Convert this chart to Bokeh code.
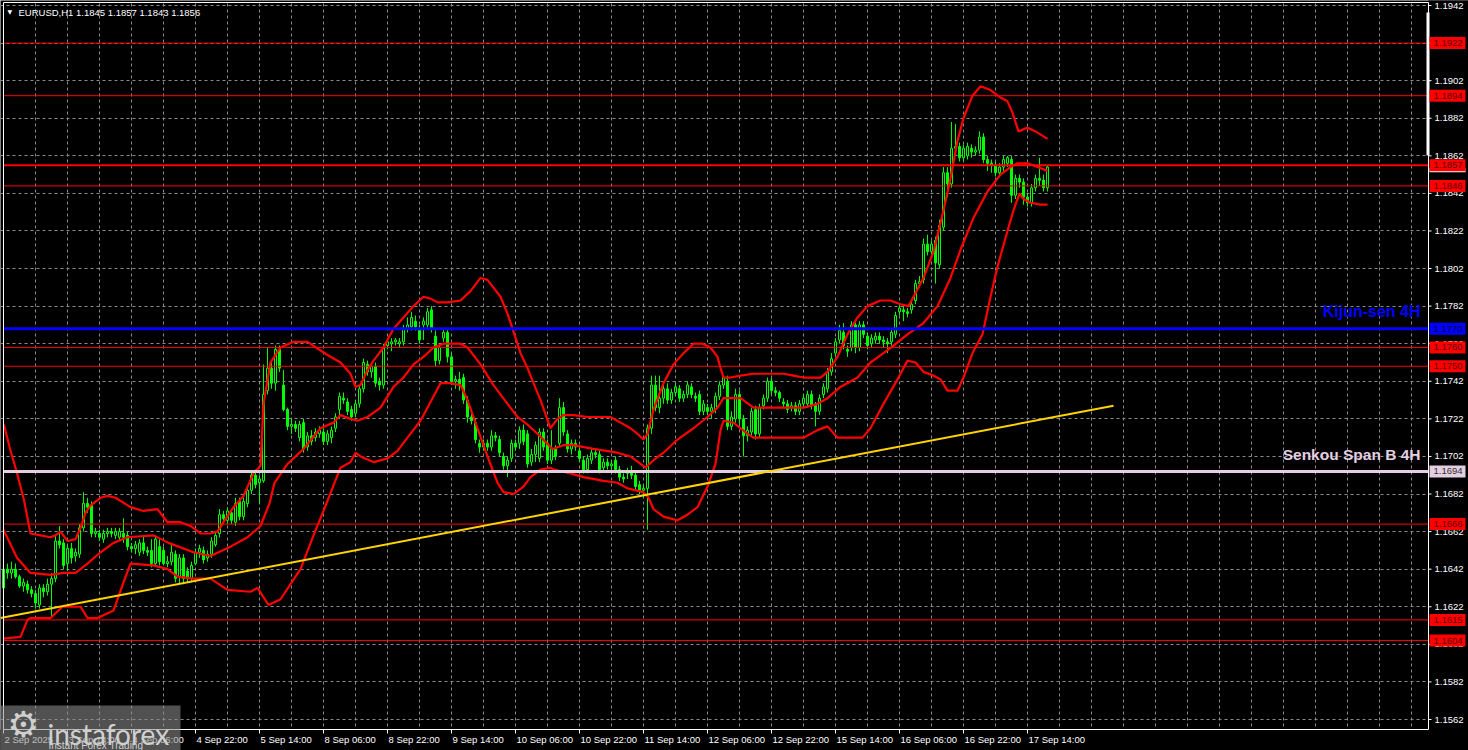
from bokeh.plotting import figure
from bokeh.models import Range1d, ColumnDataSource, Grid, FixedTicker
from bokeh.core.properties import value
from bokeh.embed import file_html
from bokeh.resources import INLINE

# ---------------- data (EURUSD H1) ----------------
bar_open = [
    1.1632, 1.1642, 1.1640, 1.1642, 1.1638, 1.1633, 1.1634, 1.1631, 1.1629, 1.1623,
    1.1632, 1.1630, 1.1634, 1.1637, 1.1657, 1.1656, 1.1645, 1.1653, 1.1649, 1.1650,
    1.1664, 1.1677, 1.1676, 1.1661, 1.1661, 1.1658, 1.1661, 1.1662, 1.1660, 1.1659,
    1.1661, 1.1660, 1.1654, 1.1653, 1.1651, 1.1656, 1.1652, 1.1652, 1.1645, 1.1654,
    1.1652, 1.1645, 1.1646, 1.1650, 1.1638, 1.1648, 1.1641, 1.1637, 1.1645, 1.1651,
    1.1652, 1.1648, 1.1650, 1.1655, 1.1661, 1.1671, 1.1668, 1.1672, 1.1667, 1.1678,
    1.1670, 1.1677, 1.1684, 1.1692, 1.1688, 1.1689, 1.1737, 1.1749, 1.1741, 1.1759,
    1.1740, 1.1727, 1.1718, 1.1719, 1.1712, 1.1720, 1.1707, 1.1713, 1.1712, 1.1714,
    1.1715, 1.1710, 1.1712, 1.1717, 1.1727, 1.1733, 1.1731, 1.1727, 1.1725, 1.1730,
    1.1738, 1.1751, 1.1747, 1.1750, 1.1742, 1.1740, 1.1761, 1.1762, 1.1763, 1.1762,
    1.1763, 1.1770, 1.1771, 1.1774, 1.1770, 1.1772, 1.1772, 1.1780, 1.1766, 1.1753,
    1.1765, 1.1768, 1.1755, 1.1742, 1.1743, 1.1744, 1.1732, 1.1723, 1.1720, 1.1709,
    1.1707, 1.1709, 1.1707, 1.1713, 1.1711, 1.1702, 1.1697, 1.1701, 1.1709, 1.1709,
    1.1716, 1.1714, 1.1699, 1.1703, 1.1701, 1.1715, 1.1709, 1.1700, 1.1706, 1.1709,
    1.1728, 1.1714, 1.1706, 1.1709, 1.1705, 1.1700, 1.1695, 1.1700, 1.1704, 1.1703,
    1.1696, 1.1699, 1.1697, 1.1700, 1.1695, 1.1691, 1.1693, 1.1694, 1.1692, 1.1687,
    1.1684, 1.1685, 1.1717, 1.1740, 1.1728, 1.1733, 1.1738, 1.1732, 1.1736, 1.1738,
    1.1733, 1.1735, 1.1739, 1.1734, 1.1735, 1.1726, 1.1728, 1.1726, 1.1727, 1.1734,
    1.1740, 1.1742, 1.1718, 1.1722, 1.1735, 1.1722, 1.1713, 1.1715, 1.1727, 1.1714,
    1.1729, 1.1733, 1.1742, 1.1737, 1.1736, 1.1731, 1.1730, 1.1728, 1.1729, 1.1726,
    1.1730, 1.1730, 1.1735, 1.1730, 1.1726, 1.1735, 1.1738, 1.1747, 1.1757, 1.1764,
    1.1768, 1.1759, 1.1760, 1.1772, 1.1760, 1.1772, 1.1766, 1.1762, 1.1764, 1.1766,
    1.1764, 1.1763, 1.1763, 1.1767, 1.1779, 1.1780, 1.1779, 1.1780, 1.1785, 1.1794,
    1.1796, 1.1815, 1.1811, 1.1817, 1.1804, 1.1824, 1.1853, 1.1847, 1.1866, 1.1867,
    1.1861, 1.1862, 1.1866, 1.1864, 1.1865, 1.1872, 1.1860, 1.1858, 1.1857, 1.1853,
    1.1856, 1.1858, 1.1860, 1.1841, 1.1850, 1.1848, 1.1840, 1.1837, 1.1845, 1.1850,
    1.1849, 1.1845,
]
bar_high = [
    1.1644, 1.1645, 1.1646, 1.1645, 1.1639, 1.1637, 1.1636, 1.1633, 1.1631, 1.1634,
    1.1634, 1.1637, 1.1640, 1.1660, 1.1665, 1.1658, 1.1655, 1.1656, 1.1653, 1.1666,
    1.1683, 1.1680, 1.1678, 1.1664, 1.1663, 1.1663, 1.1664, 1.1664, 1.1664, 1.1664,
    1.1669, 1.1662, 1.1656, 1.1657, 1.1658, 1.1660, 1.1654, 1.1658, 1.1660, 1.1658,
    1.1654, 1.1649, 1.1656, 1.1652, 1.1650, 1.1650, 1.1643, 1.1646, 1.1653, 1.1655,
    1.1654, 1.1652, 1.1659, 1.1662, 1.1674, 1.1673, 1.1675, 1.1674, 1.1680, 1.1680,
    1.1680, 1.1686, 1.1694, 1.1695, 1.1692, 1.1751, 1.1760, 1.1752, 1.1761, 1.1761,
    1.1748, 1.1728, 1.1722, 1.1721, 1.1721, 1.1722, 1.1715, 1.1716, 1.1717, 1.1718,
    1.1717, 1.1716, 1.1718, 1.1725, 1.1736, 1.1736, 1.1733, 1.1729, 1.1732, 1.1740,
    1.1754, 1.1753, 1.1752, 1.1752, 1.1744, 1.1762, 1.1765, 1.1765, 1.1765, 1.1765,
    1.1772, 1.1776, 1.1779, 1.1777, 1.1772, 1.1776, 1.1781, 1.1782, 1.1769, 1.1762,
    1.1770, 1.1770, 1.1757, 1.1745, 1.1747, 1.1746, 1.1734, 1.1727, 1.1722, 1.1711,
    1.1711, 1.1711, 1.1716, 1.1715, 1.1713, 1.1704, 1.1702, 1.1711, 1.1711, 1.1718,
    1.1719, 1.1716, 1.1706, 1.1710, 1.1717, 1.1717, 1.1711, 1.1716, 1.1708, 1.1733,
    1.1731, 1.1716, 1.1711, 1.1711, 1.1707, 1.1702, 1.1703, 1.1706, 1.1706, 1.1705,
    1.1701, 1.1701, 1.1700, 1.1702, 1.1697, 1.1693, 1.1696, 1.1697, 1.1694, 1.1689,
    1.1687, 1.1719, 1.1745, 1.1745, 1.1745, 1.1740, 1.1741, 1.1738, 1.1741, 1.1740,
    1.1737, 1.1742, 1.1741, 1.1736, 1.1737, 1.1732, 1.1730, 1.1730, 1.1736, 1.1742,
    1.1745, 1.1745, 1.1726, 1.1738, 1.1737, 1.1724, 1.1718, 1.1728, 1.1729, 1.1730,
    1.1735, 1.1744, 1.1744, 1.1739, 1.1737, 1.1733, 1.1732, 1.1731, 1.1731, 1.1732,
    1.1735, 1.1737, 1.1737, 1.1731, 1.1735, 1.1741, 1.1749, 1.1757, 1.1765, 1.1772,
    1.1773, 1.1761, 1.1774, 1.1774, 1.1774, 1.1774, 1.1768, 1.1767, 1.1768, 1.1768,
    1.1766, 1.1765, 1.1770, 1.1779, 1.1783, 1.1782, 1.1781, 1.1785, 1.1796, 1.1798,
    1.1818, 1.1820, 1.1817, 1.1819, 1.1828, 1.1856, 1.1856, 1.1880, 1.1879, 1.1869,
    1.1868, 1.1869, 1.1868, 1.1867, 1.1875, 1.1874, 1.1862, 1.1860, 1.1859, 1.1858,
    1.1862, 1.1862, 1.1862, 1.1852, 1.1852, 1.1850, 1.1842, 1.1847, 1.1852, 1.1861,
    1.1852, 1.1857,
]
bar_low = [
    1.1628, 1.1637, 1.1637, 1.1637, 1.1632, 1.1630, 1.1629, 1.1627, 1.1621, 1.1621,
    1.1627, 1.1628, 1.1616, 1.1635, 1.1653, 1.1642, 1.1641, 1.1645, 1.1646, 1.1648,
    1.1662, 1.1672, 1.1659, 1.1659, 1.1657, 1.1656, 1.1659, 1.1659, 1.1658, 1.1657,
    1.1656, 1.1652, 1.1651, 1.1650, 1.1649, 1.1650, 1.1649, 1.1643, 1.1644, 1.1644,
    1.1644, 1.1643, 1.1644, 1.1635, 1.1634, 1.1634, 1.1635, 1.1635, 1.1644, 1.1648,
    1.1645, 1.1646, 1.1648, 1.1654, 1.1659, 1.1667, 1.1666, 1.1666, 1.1665, 1.1668,
    1.1668, 1.1675, 1.1682, 1.1685, 1.1677, 1.1688, 1.1735, 1.1738, 1.1737, 1.1747,
    1.1726, 1.1716, 1.1714, 1.1715, 1.1710, 1.1704, 1.1705, 1.1708, 1.1710, 1.1712,
    1.1708, 1.1708, 1.1709, 1.1715, 1.1722, 1.1730, 1.1724, 1.1721, 1.1723, 1.1728,
    1.1736, 1.1745, 1.1744, 1.1739, 1.1737, 1.1738, 1.1759, 1.1758, 1.1761, 1.1760,
    1.1761, 1.1768, 1.1769, 1.1769, 1.1762, 1.1764, 1.1770, 1.1768, 1.1750, 1.1751,
    1.1763, 1.1752, 1.1740, 1.1738, 1.1737, 1.1730, 1.1720, 1.1719, 1.1709, 1.1704,
    1.1705, 1.1705, 1.1705, 1.1710, 1.1702, 1.1695, 1.1691, 1.1699, 1.1705, 1.1706,
    1.1708, 1.1696, 1.1697, 1.1699, 1.1699, 1.1705, 1.1698, 1.1698, 1.1700, 1.1707,
    1.1713, 1.1704, 1.1703, 1.1705, 1.1699, 1.1693, 1.1693, 1.1698, 1.1701, 1.1693,
    1.1694, 1.1695, 1.1694, 1.1693, 1.1689, 1.1688, 1.1690, 1.1690, 1.1684, 1.1682,
    1.1680, 1.1663, 1.1714, 1.1726, 1.1725, 1.1730, 1.1730, 1.1730, 1.1734, 1.1731,
    1.1731, 1.1733, 1.1733, 1.1731, 1.1724, 1.1724, 1.1724, 1.1722, 1.1725, 1.1732,
    1.1738, 1.1716, 1.1716, 1.1720, 1.1719, 1.1702, 1.1710, 1.1713, 1.1711, 1.1712,
    1.1727, 1.1731, 1.1735, 1.1734, 1.1731, 1.1728, 1.1725, 1.1726, 1.1724, 1.1724,
    1.1728, 1.1728, 1.1727, 1.1718, 1.1724, 1.1733, 1.1736, 1.1745, 1.1755, 1.1762,
    1.1759, 1.1755, 1.1758, 1.1757, 1.1758, 1.1765, 1.1759, 1.1760, 1.1762, 1.1762,
    1.1760, 1.1757, 1.1761, 1.1765, 1.1777, 1.1774, 1.1776, 1.1778, 1.1783, 1.1792,
    1.1794, 1.1809, 1.1808, 1.1794, 1.1802, 1.1822, 1.1840, 1.1845, 1.1862, 1.1859,
    1.1859, 1.1860, 1.1861, 1.1862, 1.1863, 1.1858, 1.1854, 1.1853, 1.1851, 1.1851,
    1.1854, 1.1856, 1.1837, 1.1839, 1.1845, 1.1836, 1.1835, 1.1835, 1.1843, 1.1846,
    1.1843, 1.1843,
]
bar_close = [
    1.1642, 1.1640, 1.1642, 1.1638, 1.1633, 1.1635, 1.1631, 1.1629, 1.1624, 1.1632,
    1.1630, 1.1634, 1.1637, 1.1657, 1.1655, 1.1644, 1.1653, 1.1648, 1.1651, 1.1664,
    1.1677, 1.1675, 1.1661, 1.1662, 1.1659, 1.1661, 1.1662, 1.1661, 1.1662, 1.1662,
    1.1659, 1.1654, 1.1653, 1.1655, 1.1656, 1.1652, 1.1651, 1.1645, 1.1658, 1.1646,
    1.1645, 1.1646, 1.1651, 1.1637, 1.1648, 1.1637, 1.1637, 1.1644, 1.1651, 1.1653,
    1.1647, 1.1650, 1.1657, 1.1660, 1.1671, 1.1669, 1.1673, 1.1668, 1.1677, 1.1670,
    1.1678, 1.1684, 1.1692, 1.1687, 1.1690, 1.1735, 1.1749, 1.1741, 1.1759, 1.1749,
    1.1727, 1.1718, 1.1719, 1.1717, 1.1719, 1.1706, 1.1713, 1.1710, 1.1715, 1.1716,
    1.1710, 1.1714, 1.1716, 1.1723, 1.1734, 1.1732, 1.1726, 1.1723, 1.1730, 1.1738,
    1.1752, 1.1747, 1.1750, 1.1741, 1.1740, 1.1760, 1.1763, 1.1763, 1.1764, 1.1763,
    1.1770, 1.1772, 1.1776, 1.1771, 1.1764, 1.1774, 1.1779, 1.1770, 1.1753, 1.1760,
    1.1768, 1.1755, 1.1742, 1.1743, 1.1740, 1.1732, 1.1723, 1.1721, 1.1711, 1.1707,
    1.1709, 1.1707, 1.1713, 1.1712, 1.1704, 1.1697, 1.1700, 1.1709, 1.1707, 1.1716,
    1.1710, 1.1698, 1.1703, 1.1708, 1.1715, 1.1707, 1.1700, 1.1706, 1.1702, 1.1728,
    1.1715, 1.1706, 1.1709, 1.1707, 1.1701, 1.1695, 1.1701, 1.1704, 1.1703, 1.1695,
    1.1699, 1.1697, 1.1698, 1.1695, 1.1691, 1.1690, 1.1694, 1.1692, 1.1686, 1.1684,
    1.1685, 1.1717, 1.1740, 1.1728, 1.1733, 1.1738, 1.1732, 1.1736, 1.1739, 1.1733,
    1.1735, 1.1740, 1.1735, 1.1733, 1.1726, 1.1730, 1.1726, 1.1728, 1.1734, 1.1740,
    1.1744, 1.1718, 1.1723, 1.1735, 1.1722, 1.1713, 1.1716, 1.1726, 1.1714, 1.1728,
    1.1733, 1.1742, 1.1737, 1.1736, 1.1733, 1.1730, 1.1727, 1.1729, 1.1726, 1.1730,
    1.1733, 1.1735, 1.1729, 1.1726, 1.1733, 1.1739, 1.1747, 1.1754, 1.1763, 1.1769,
    1.1761, 1.1758, 1.1772, 1.1760, 1.1772, 1.1767, 1.1761, 1.1765, 1.1766, 1.1764,
    1.1763, 1.1762, 1.1768, 1.1777, 1.1781, 1.1779, 1.1778, 1.1783, 1.1794, 1.1795,
    1.1815, 1.1811, 1.1815, 1.1805, 1.1825, 1.1853, 1.1847, 1.1866, 1.1867, 1.1861,
    1.1866, 1.1867, 1.1864, 1.1865, 1.1872, 1.1860, 1.1858, 1.1857, 1.1853, 1.1856,
    1.1860, 1.1861, 1.1841, 1.1850, 1.1848, 1.1840, 1.1837, 1.1845, 1.1850, 1.1849,
    1.1845, 1.1856,
]

# Bollinger-type envelope (red): bar position, price
upper_bar = [0.1, 1.75, 3.4, 5.1, 6.75, 9.25, 11.75, 13, 14.25, 16,
             18, 19.25, 20.5, 21.75, 24.25, 26, 28, 31.75, 35, 38.5,
             41, 44.25, 46.75, 49.25, 51.75, 53.5, 55, 57.5, 60, 62.5,
             64.25, 65, 66.75, 69.25, 72.5, 76, 81, 84.25, 86.75, 88,
             89.25, 91, 92.5, 95, 97.5, 100, 102.5, 105, 106.75, 108.5,
             111, 114.25, 116.75, 119.25, 121, 124.25, 126, 128.5, 129.25, 131,
             132.5, 134.25, 136.75, 138.5, 140, 142.5, 146, 151.75, 154.25, 156.75,
             158.5, 160, 161, 162.5, 165, 167.5, 170, 172.5, 174.75, 176.75,
             178.5, 179.25, 180, 181.75, 184.25, 187.5, 191.75, 195, 197.5, 200,
             204.25, 206, 208.5, 211, 213.5, 216, 219.25, 221.75, 224.25, 226.25,
             227.5, 230, 232.5, 235, 236.75, 238.5, 240, 242.25, 244.25, 246.75,
             249.25, 251, 252.25, 253.75, 256, 258, 261]
upper_val = [1.1719, 1.1705, 1.1693, 1.1679, 1.1661, 1.1660, 1.1659, 1.1660, 1.1662, 1.1657,
             1.1658, 1.1664, 1.1672, 1.1676, 1.1680, 1.1681, 1.1680, 1.1675, 1.1673, 1.1674,
             1.1667, 1.1667, 1.1665, 1.1661, 1.1661, 1.1662, 1.1667, 1.1675, 1.1681, 1.1693,
             1.1697, 1.1730, 1.1752, 1.1760, 1.1763, 1.1763, 1.1756, 1.1752, 1.1746, 1.1739,
             1.1740, 1.1748, 1.1753, 1.1760, 1.1770, 1.1776, 1.1782, 1.1787, 1.1786, 1.1784,
             1.1784, 1.1785, 1.1790, 1.1797, 1.1796, 1.1787, 1.1778, 1.1762, 1.1757, 1.1749,
             1.1741, 1.1732, 1.1717, 1.1722, 1.1724, 1.1724, 1.1723, 1.1723, 1.1720, 1.1717,
             1.1714, 1.1711, 1.1714, 1.1727, 1.1741, 1.1751, 1.1757, 1.1762, 1.1762, 1.1760,
             1.1755, 1.1749, 1.1744, 1.1744, 1.1745, 1.1746, 1.1746, 1.1746, 1.1745, 1.1744,
             1.1744, 1.1747, 1.1755, 1.1767, 1.1776, 1.1782, 1.1785, 1.1785, 1.1783, 1.1782,
             1.1787, 1.1797, 1.1811, 1.1833, 1.1850, 1.1870, 1.1882, 1.1894, 1.1899, 1.1897,
             1.1893, 1.1891, 1.1885, 1.1875, 1.1877, 1.1875, 1.1871]
mid_bar = [0, 3.4, 6.75, 11.75, 15, 18, 21, 24.25, 27.5, 31,
           37.5, 41.25, 47.5, 51.75, 56.75, 61, 64.25, 66.5, 67.75, 71,
           75, 79.25, 82.5, 84.25, 86.75, 88.5, 91, 94.25, 97.5, 100,
           102.5, 105, 107.5, 110, 114.25, 116, 119.25, 122.5, 126, 128.5,
           131, 134, 137.25, 140, 142.5, 147.5, 153.5, 156.75, 159.25, 160.5,
           162.5, 165, 168.5, 172.5, 176, 178.5, 180, 182.5, 184.25, 187.5,
           191.75, 196, 200, 203.5, 206, 209.25, 213.5, 216.75, 220, 222.5,
           226, 230, 233.5, 236.75, 239.25, 242.5, 246, 249.25, 251.75, 253.5,
           256, 258.5, 261]
mid_val = [1.1663, 1.1648, 1.1640, 1.1639, 1.1640, 1.1640, 1.1645, 1.1651, 1.1656, 1.1659,
           1.1660, 1.1656, 1.1651, 1.1649, 1.1654, 1.1659, 1.1665, 1.1677, 1.1688, 1.1698,
           1.1706, 1.1717, 1.1720, 1.1724, 1.1722, 1.1721, 1.1723, 1.1728, 1.1739, 1.1744,
           1.1751, 1.1755, 1.1760, 1.1762, 1.1762, 1.1760, 1.1751, 1.1740, 1.1730, 1.1723,
           1.1719, 1.1713, 1.1706, 1.1708, 1.1708, 1.1706, 1.1704, 1.1702, 1.1698, 1.1696,
           1.1700, 1.1704, 1.1711, 1.1717, 1.1723, 1.1728, 1.1733, 1.1733, 1.1733, 1.1728,
           1.1728, 1.1728, 1.1728, 1.1730, 1.1733, 1.1739, 1.1744, 1.1752, 1.1757, 1.1761,
           1.1767, 1.1773, 1.1782, 1.1797, 1.1812, 1.1829, 1.1843, 1.1852, 1.1856, 1.1858,
           1.1858, 1.1856, 1.1854]
lower_bar = [0, 4.25, 6, 6.75, 11.75, 14.75, 19.25, 21, 23.5, 27.5,
             30, 31.75, 37.5, 41, 43.5, 47.5, 51.75, 56, 61.75, 63.5,
             66.25, 69.25, 74.25, 77.5, 80, 84.25, 86.75, 88, 89.25, 92.5,
             96, 98.5, 101, 104.25, 106.75, 109.25, 111.75, 114.25, 116, 118.5,
             121, 123.5, 125, 127.5, 130, 131.75, 134.25, 136.75, 137.5, 141.75,
             145, 150, 153.5, 156, 160, 161.25, 162.5, 165, 168.5, 171,
             173.5, 176, 178, 179.25, 180, 182.5, 184.25, 186, 187.5, 191.75,
             196, 200, 203.5, 206, 208.5, 211.75, 214.75, 216.75, 220, 223.5,
             226, 228, 230, 232.5, 234.25, 236, 238.5, 240, 242.25, 244.75,
             246.75, 248.5, 251, 252.5, 254, 255, 256.75, 259.25, 261]
lower_val = [1.1605, 1.1606, 1.1615, 1.1616, 1.1616, 1.1622, 1.1622, 1.1616, 1.1616, 1.1620,
             1.1635, 1.1645, 1.1644, 1.1642, 1.1638, 1.1637, 1.1637, 1.1631, 1.1630, 1.1632,
             1.1623, 1.1626, 1.1642, 1.1660, 1.1673, 1.1696, 1.1699, 1.1704, 1.1702, 1.1699,
             1.1701, 1.1705, 1.1712, 1.1721, 1.1731, 1.1741, 1.1741, 1.1740, 1.1732, 1.1717,
             1.1702, 1.1688, 1.1683, 1.1682, 1.1686, 1.1691, 1.1695, 1.1696, 1.1695, 1.1693,
             1.1691, 1.1689, 1.1688, 1.1685, 1.1683, 1.1680, 1.1674, 1.1670, 1.1668, 1.1671,
             1.1675, 1.1686, 1.1698, 1.1716, 1.1721, 1.1720, 1.1717, 1.1714, 1.1712, 1.1712,
             1.1712, 1.1712, 1.1716, 1.1718, 1.1712, 1.1712, 1.1712, 1.1717, 1.1730, 1.1743,
             1.1753, 1.1752, 1.1747, 1.1745, 1.1743, 1.1737, 1.1737, 1.1744, 1.1757, 1.1767,
             1.1787, 1.1803, 1.1822, 1.1833, 1.1842, 1.1839, 1.1837, 1.1836, 1.1836]

# Horizontal levels and trend line
red_levels = [1.1922, 1.1894, 1.1846, 1.1760, 1.1750, 1.1666, 1.1615, 1.1604]
current_level = 1.1857
kijun_level = 1.1770
senkou_level = 1.1694
trend_bar = [-0.75, 277.5]
trend_val = [1.1616, 1.1729]

# Axis ticks
price_ticks = [1.1562, 1.1582, 1.1602, 1.1622, 1.1642, 1.1662, 1.1682, 1.1702, 1.1722, 1.1742,
               1.1762, 1.1782, 1.1802, 1.1822, 1.1842, 1.1862, 1.1882, 1.1902, 1.1922, 1.1942]
time_tick_bars = [0, 16, 32, 48, 64, 80, 96, 112, 128, 144, 160, 176, 192, 208, 224, 240, 256]
time_tick_labels = ["2 Sep 2025", "3 Sep 14:00", "4 Sep 06:00", "4 Sep 22:00", "5 Sep 14:00",
                    "8 Sep 06:00", "8 Sep 22:00", "9 Sep 14:00", "10 Sep 06:00", "10 Sep 22:00",
                    "11 Sep 14:00", "12 Sep 06:00", "12 Sep 22:00", "15 Sep 14:00", "16 Sep 06:00",
                    "16 Sep 22:00", "17 Sep 14:00"]
grid_bars = list(range(0, 357, 8))
title_text = "EURUSD,H1  1.1845 1.1857 1.1843 1.1856"

# ---------------- layout helpers (reference pixel -> data) ----------------
LIME = "#00ff00"
RED = "#ff0000"
FONT = "Liberation Sans"
PX = 0.038 / 714.0          # price per screen pixel
W, H = 1468, 750


def bx(ref_x):
    return (ref_x - 3) / 4.0


def py(ref_y):
    return 1.1942 - (ref_y - 5) * PX


RIGHT = bx(1428)      # chart frame right border
BOTTOM = py(729)      # chart frame bottom border
LEFT = bx(3)
TOP = py(0)

p = figure(width=W, height=H, output_backend="svg", toolbar_location=None,
           x_range=Range1d(bx(0), bx(W)), y_range=Range1d(py(H), py(0)),
           x_axis_location=None, y_axis_location=None, title=None,
           min_border_left=0, min_border_top=0, min_border_right=0, min_border_bottom=0,
           background_fill_color="black", border_fill_color="black", outline_line_color=None)

# drop the default grids, then add the MT4-style dashed grid
p.center = [r for r in p.center if not isinstance(r, Grid)]
GRID = "#8a8a8a"
p.add_layout(Grid(dimension=0, ticker=FixedTicker(ticks=grid_bars), grid_line_color=GRID,
                  grid_line_dash="3 3", grid_line_width=1))
p.add_layout(Grid(dimension=1, ticker=FixedTicker(ticks=price_ticks), grid_line_color=GRID,
                  grid_line_dash="3 3", grid_line_width=1))
# black panels for the price scale and time scale (grid stops at the chart frame)
p.quad(left=[RIGHT], right=[bx(W + 5)], top=[py(-5)], bottom=[py(H + 5)],
       fill_color="black", line_color=None)
p.quad(left=[bx(-5)], right=[RIGHT], top=[BOTTOM], bottom=[py(H + 5)],
       fill_color="black", line_color=None)

# candles
bars = list(range(len(bar_close)))
body_top = [max(o, c) for o, c in zip(bar_open, bar_close)]
body_bot = [min(o, c) for o, c in zip(bar_open, bar_close)]
body_fill = ["black" if c >= o else LIME for o, c in zip(bar_open, bar_close)]
src = ColumnDataSource(dict(x=bars, high=bar_high, low=bar_low, top=body_top,
                            bottom=body_bot, fill=body_fill))
p.segment(x0="x", y0="high", x1="x", y1="low", source=src, line_color=LIME, line_width=1)
p.vbar(x="x", width=0.5, top="top", bottom="bottom", source=src,
       fill_color="fill", line_color=LIME, line_width=1)

# envelope
for bxs, bvs in ((upper_bar, upper_val), (mid_bar, mid_val), (lower_bar, lower_val)):
    p.line(bxs, bvs, line_color=RED, line_width=2.2)

# levels
n_red = len(red_levels)
p.segment(x0=[LEFT] * n_red, x1=[RIGHT] * n_red, y0=red_levels, y1=red_levels,
          line_color=RED, line_width=1)
p.segment(x0=[LEFT], x1=[RIGHT], y0=[current_level], y1=[current_level], line_color=RED, line_width=2)
p.segment(x0=[LEFT], x1=[RIGHT], y0=[kijun_level], y1=[kijun_level], line_color="#0000ff", line_width=3)
p.segment(x0=[LEFT], x1=[RIGHT], y0=[senkou_level], y1=[senkou_level], line_color="#e4cfe2", line_width=3)
p.line(trend_bar, trend_val, line_color="#ffd400", line_width=2)

# frame borders
p.segment(x0=[RIGHT, LEFT, LEFT], x1=[RIGHT, RIGHT, LEFT], y0=[BOTTOM, BOTTOM, BOTTOM],
          y1=[py(2), BOTTOM, py(2)], line_color="white", line_width=1)
p.segment(x0=[LEFT], x1=[RIGHT], y0=[py(2)], y1=[py(2)], line_color="white", line_width=1)
# white marker at the right edge (top)
p.quad(left=[bx(1426)], right=[bx(1429)], top=[py(12)], bottom=[py(155)],
       fill_color="white", line_color=None)

# right price axis: ticks + labels
n_pt = len(price_ticks)
p.segment(x0=[RIGHT] * n_pt, x1=[bx(1431)] * n_pt, y0=price_ticks, y1=price_ticks,
          line_color="white", line_width=1)
p.text(x=[bx(1434)] * n_pt, y=price_ticks, text=["%.4f" % v for v in price_ticks],
       text_align="left", text_baseline="middle", text_color="white",
       text_font=value(FONT), text_font_size="9.5px")


# coloured level boxes on the price axis
def level_boxes(levels, bg, fg):
    n = len(levels)
    p.rect(x=[bx(1447)] * n, y=levels, width=36, height=12, width_units="screen",
           height_units="screen", fill_color=bg, line_color=None)
    p.text(x=[bx(1433)] * n, y=levels, text=["%.4f" % v for v in levels],
           text_align="left", text_baseline="middle", text_color=fg,
           text_font=value(FONT), text_font_size="9.5px")


# current bid strip under the 1.1857 box
p.rect(x=[bx(1447)], y=[current_level - 5 * PX], width=36, height=4, width_units="screen",
       height_units="screen", fill_color="white", line_color=None)
level_boxes(red_levels + [current_level], RED, "#5c0000")
level_boxes([kijun_level], "#0000ff", "#000040")
level_boxes([senkou_level], "#e4cfe2", "#303030")

# time axis: ticks + labels
n_tt = len(time_tick_bars)
p.segment(x0=time_tick_bars, x1=time_tick_bars, y0=[BOTTOM] * n_tt, y1=[py(733)] * n_tt,
          line_color="white", line_width=1)
p.text(x=time_tick_bars, y=[py(733)] * n_tt, text=time_tick_labels, x_offset=1,
       text_align="left", text_baseline="top", text_color="white",
       text_font=value(FONT), text_font_size="9.5px")

# title
p.text(x=[bx(7)], y=[py(11)], text=["\u25bc"], text_align="left", text_baseline="middle",
       text_color="white", text_font=value("DejaVu Sans"), text_font_size="6px")
p.text(x=[bx(18)], y=[py(6)], text=[title_text], text_align="left", text_baseline="top",
       text_color="white", text_font=value(FONT), text_font_size="9.5px")

# indicator captions
p.text(x=[bx(1420)], y=[kijun_level + 17 * PX], text=["Kijun-sen 4H"], text_align="right",
       text_baseline="middle", text_color="#0000ff", text_font=value(FONT),
       text_font_style="bold", text_font_size="16px")
p.text(x=[bx(1420)], y=[senkou_level + 17 * PX], text=["Senkou Span B 4H"], text_align="right",
       text_baseline="middle", text_color="#e4cfe2", text_font=value(FONT),
       text_font_style="bold", text_font_size="15.5px")

# watermark logo
p.quad(left=[bx(0)], right=[bx(180)], top=[py(705)], bottom=[py(H + 5)],
       fill_color="#8c8c8c", fill_alpha=0.58, line_color=None)
p.text(x=[bx(23)], y=[py(724)], text=["\u2699"], text_align="center", text_baseline="middle",
       text_color="#cfcfcf", text_font=value("DejaVu Sans"), text_font_size="36px")
p.text(x=[bx(47)], y=[py(733)], text=["instaforex"], text_align="left", text_baseline="alphabetic",
       text_color="#d0d0d0", text_font=value("Lato"), text_font_size="28px")
p.text(x=[bx(48)], y=[py(739)], text=["Instant Forex Trading"], text_align="left", text_baseline="top",
       text_color="#d0d0d0", text_font=value(FONT), text_font_size="10px")

open("out.html", "w").write(file_html(p, INLINE))
